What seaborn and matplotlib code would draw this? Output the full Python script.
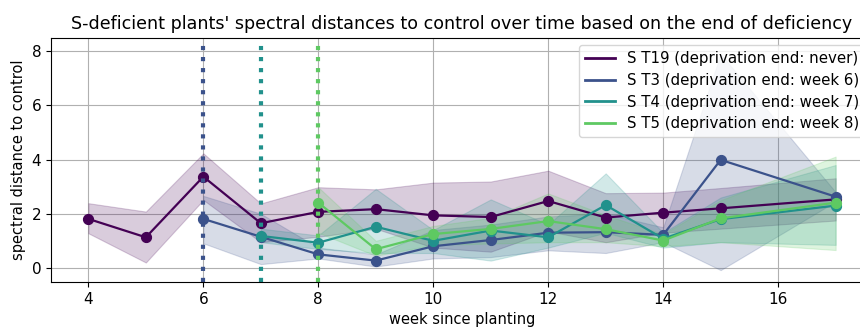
import numpy as np
import pandas as pd
import matplotlib
matplotlib.use("Agg")
import matplotlib.pyplot as plt
from matplotlib.lines import Line2D
import seaborn as sns

# ---- data ----
weeks_t19 = [4, 5, 6, 7, 8, 9, 10, 11, 12, 13, 14, 15, 17]
mean_t19 = [1.81, 1.13, 3.37, 1.65, 2.07, 2.17, 1.94, 1.88, 2.47, 1.86, 2.04, 2.20, 2.53]
lo_t19 = [1.28, 0.20, 2.51, 0.95, 1.15, 1.45, 0.75, 0.60, 1.35, 0.95, 1.30, 1.45, 1.75]
hi_t19 = [2.39, 2.08, 4.23, 2.38, 2.98, 2.90, 3.15, 3.19, 3.59, 2.76, 2.78, 2.95, 3.31]

weeks_t3 = [6, 7, 8, 9, 10, 11, 12, 13, 14, 15, 17]
mean_t3 = [1.81, 1.15, 0.50, 0.27, 0.80, 1.03, 1.30, 1.32, 1.22, 3.99, 2.63]
lo_t3 = [0.91, 0.14, 0.35, 0.05, 0.35, 0.40, 0.65, 0.55, 0.95, -0.08, 2.45]
hi_t3 = [2.66, 2.00, 0.75, 0.50, 1.40, 1.60, 1.90, 2.00, 1.50, 7.90, 2.80]

weeks_t4 = [7, 8, 9, 10, 11, 12, 13, 14, 15, 17]
mean_t4 = [1.18, 0.93, 1.52, 1.00, 1.38, 1.13, 2.32, 1.08, 1.80, 2.30]
lo_t4 = [0.95, 0.70, 0.55, 0.55, 0.27, 0.75, 1.30, 0.75, 0.95, 0.85]
hi_t4 = [1.45, 1.20, 2.92, 1.40, 2.53, 1.60, 3.49, 1.30, 2.60, 3.80]

weeks_t5 = [8, 9, 10, 11, 12, 13, 14, 15, 17]
mean_t5 = [2.41, 0.69, 1.25, 1.44, 1.73, 1.43, 1.01, 1.83, 2.41]
lo_t5 = [1.30, 0.45, 0.85, 0.90, 0.95, 0.95, 0.80, 0.95, 0.66]
hi_t5 = [2.98, 1.00, 1.55, 1.85, 2.75, 1.95, 1.25, 2.50, 4.11]

labels = ["S T19 (deprivation end: never)",
          "S T3 (deprivation end: week 6)",
          "S T4 (deprivation end: week 7)",
          "S T5 (deprivation end: week 8)"]
colors = ["#440154", "#3b528b", "#21918c", "#5ec962"]
end_weeks = [None, 6, 7, 8]

series = [
    (weeks_t19, mean_t19, lo_t19, hi_t19),
    (weeks_t3, mean_t3, lo_t3, hi_t3),
    (weeks_t4, mean_t4, lo_t4, hi_t4),
    (weeks_t5, mean_t5, lo_t5, hi_t5),
]

fig = plt.figure(figsize=(8.6, 3.27), dpi=100)
ax = fig.add_axes([51 / 860, 1 - 282 / 327, (873 - 51) / 860, (282 - 37.7) / 327])
ax.grid(True, color="#b0b0b0", linewidth=0.8)
ax.set_axisbelow(True)

for (w, m, lo, hi), lab, col in zip(series, labels, colors):
    df = pd.DataFrame({"week": w, "dist": m})
    sns.lineplot(data=df, x="week", y="dist", color=col, marker="o",
                 markersize=7.3, markeredgecolor=col, linewidth=1.6,
                 errorbar=None, ax=ax, legend=False)
    ax.fill_between(w, lo, hi, color=col, alpha=0.2, linewidth=0.8)

for wk, col in zip(end_weeks, colors):
    if wk is not None:
        ax.axvline(wk, ymin=0, ymax=0.97, color=col, linestyle=":", linewidth=3)

ax.set_xlim(3.35, 17.65)
ax.set_ylim(-0.52, 8.5)
ax.set_xticks([4, 6, 8, 10, 12, 14, 16])
ax.set_yticks([0, 2, 4, 6, 8])
ax.tick_params(labelsize=11)
ax.set_xlabel("week since planting", fontsize=10.5)
ax.set_ylabel("spectral distance to control", fontsize=10.5)
ax.set_title("S-deficient plants' spectral distances to control over time based on the end of deficiency",
             fontsize=12.6)

handles = [Line2D([0], [0], color=c, linewidth=2) for c in colors]
ax.legend(handles, labels, loc="upper right", fontsize=10.8, framealpha=0.8,
          labelspacing=0.45)

fig.savefig("out.png", dpi=100)
